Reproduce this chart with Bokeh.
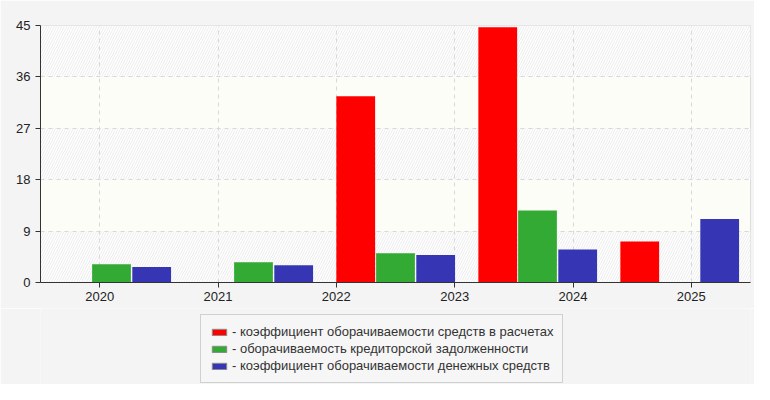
from bokeh.plotting import figure
from bokeh.layouts import column
from bokeh.models import (FactorRange, Range1d, FixedTicker, ColumnDataSource,
                          Legend, LegendItem, BoxAnnotation)
from bokeh.transform import dodge
from bokeh.embed import file_html
from bokeh.resources import INLINE

# ---- data ----
axis_years = ["2020", "2021", "2022", "2023", "2024", "2025"]
groups = ["p1", "p2", "p3", "p4", "p5"]
receivables_turnover = [0, 0, 32.6, 44.7, 7.2]
payables_turnover = [3.2, 3.55, 5.1, 12.6, 0]
cash_turnover = [2.7, 3.0, 4.8, 5.8, 11.1]
y_ticks = [0, 9, 18, 27, 36, 45]
labels = ["- коэффициент оборачиваемости средств в расчетах",
          "- оборачиваемость кредиторской задолженности",
          "- коэффициент оборачиваемости денежных средств"]
colors = ["#ff0000", "#33aa33", "#3636b4"]

FONT = "Liberation Sans"
BG = "#f4f4f4"

p = figure(width=754, height=308, output_backend="svg", toolbar_location=None,
           x_range=FactorRange(*axis_years, range_padding=0),
           y_range=Range1d(0, 45),
           min_border_left=40, min_border_right=4, min_border_top=25,
           min_border_bottom=26)
p.extra_x_ranges = {"g": FactorRange(*groups, range_padding=0)}

p.background_fill_color = "#fdfdf7"
p.border_fill_color = BG
p.outline_line_color = "#dddddd"

# hatched bands on alternate tick intervals (drawn beneath the grid lines)
boxes = [BoxAnnotation(bottom=lo, top=hi, fill_color="#ffffff", fill_alpha=1,
                       hatch_pattern="/", hatch_color="#ececec",
                       hatch_scale=5, hatch_weight=1, line_color=None,
                       level="underlay")
         for lo, hi in zip(y_ticks[0::2], y_ticks[1::2])]
p.center = boxes + list(p.center)

src = ColumnDataSource(dict(g=groups, r=receivables_turnover,
                            pay=payables_turnover, c=cash_turnover))
rng = p.extra_x_ranges["g"]
offs = [-0.28, 0.0, 0.283]
fields = ["r", "pay", "c"]
for f, o, col in zip(fields, offs, colors):
    p.vbar(x=dodge("g", o, range=rng), top=f, width=0.273, source=src,
           x_range_name="g", fill_color=col, line_color=None)

# axes
p.xaxis.axis_line_color = "#333333"
p.yaxis.axis_line_color = "#333333"
p.xaxis.major_tick_line_color = "#333333"
p.yaxis.major_tick_line_color = "#333333"
p.xaxis.major_tick_out = 5
p.xaxis.major_tick_in = 0
p.yaxis.major_tick_out = 5
p.yaxis.major_tick_in = 0
p.yaxis.minor_tick_line_color = None
p.yaxis.ticker = FixedTicker(ticks=y_ticks)
p.xaxis.major_label_text_font = FONT
p.yaxis.major_label_text_font = FONT
p.xaxis.major_label_text_font_size = "13px"
p.yaxis.major_label_text_font_size = "13px"
p.xaxis.major_label_text_color = "#222222"
p.yaxis.major_label_text_color = "#222222"
p.xaxis.major_label_standoff = 4
p.yaxis.major_label_standoff = 5

# grids
for g in (p.xgrid, p.ygrid):
    g.grid_line_color = "#d8d8d8"
    g.grid_line_dash = "4 4"
p.ygrid.ticker = FixedTicker(ticks=y_ticks)

# ---- legend strip ----
q = figure(width=754, height=76, output_backend="svg", toolbar_location=None,
           x_range=FactorRange(*groups), y_range=Range1d(100, 101),
           min_border=0)
q.axis.visible = False
q.grid.visible = False
q.outline_line_color = None
q.background_fill_color = BG
q.border_fill_color = BG

items = []
for f, o, col, lab in zip(fields, offs, colors, labels):
    r = q.vbar(x=dodge("g", o, range=q.x_range), top=f, width=0.273, source=src,
               fill_color=col, line_color="#8a8a8a", line_width=1)
    items.append(LegendItem(label=lab, renderers=[r]))

legend = Legend(items=items, location=(160, 1), orientation="vertical")
legend.label_text_font = FONT
legend.label_text_font_size = "13px"
legend.label_text_color = "#333333"
legend.label_height = 15
legend.glyph_height = 8
legend.glyph_width = 18
legend.label_standoff = 4
legend.spacing = 2
legend.padding = 9
legend.margin = 0
legend.background_fill_color = "#f6f6f6"
legend.background_fill_alpha = 1
legend.border_line_color = "#aaaaaa"
q.add_layout(legend, "center")

layout = column(p, q, spacing=0)
open("out.html", "w").write(file_html(layout, INLINE))
